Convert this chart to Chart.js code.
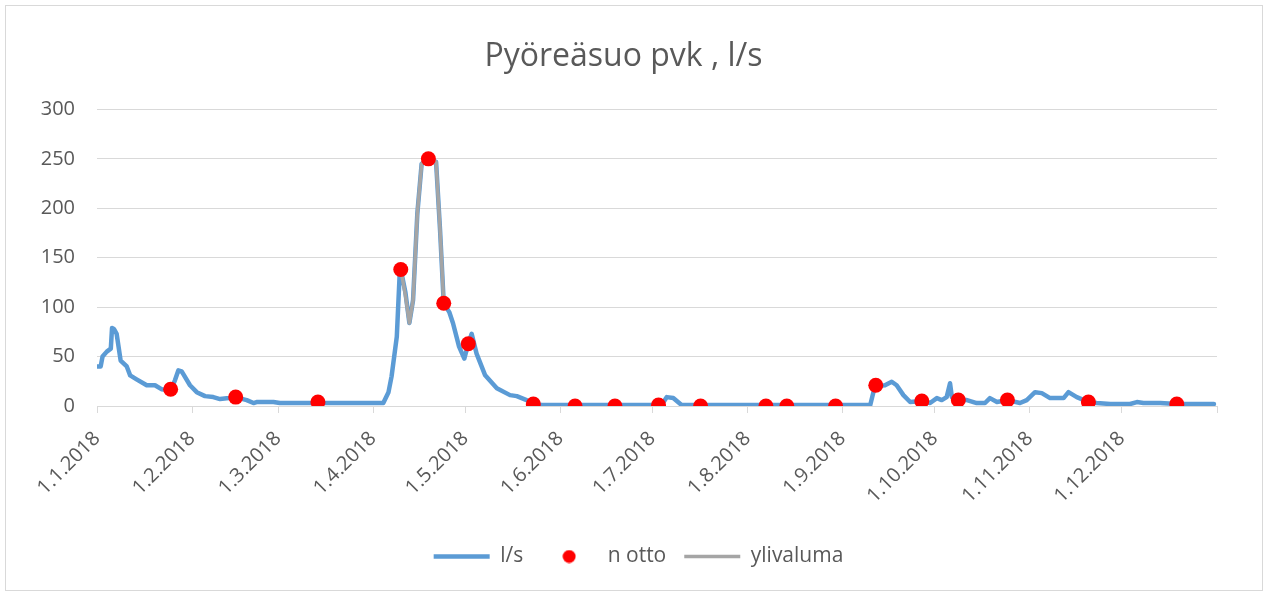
<!DOCTYPE html>
<html lang="fi">
<head>
  <meta charset="utf-8"/>
  <title>Pyöreäsuo pvk , l/s</title>
  <script src="https://cdn.jsdelivr.net/npm/chart.js"></script>
  <style>
    html, body { margin: 0; padding: 0; background: #fff; }
    #wrap { position: relative; width: 1264px; height: 591px; }
    #frame { position: absolute; left: 5px; top: 5px; width: 1256px; height: 584px;
             border: 1px solid #d9d9d9; pointer-events: none; }
  </style>
</head>
<body>
<div id="wrap">
  <canvas id="flowChart"></canvas>
  <div id="frame"></div>
</div>
<script>
// day of year (0 = 1.1.2018) and flow l/s
const lsDays = [0, 1.2, 1.8, 3.2, 4.5, 4.9, 5.5, 6.4, 7.7, 9.7, 10.8, 12.9, 16.2, 18.9, 21, 24, 25.4, 26.5, 27.6,
  30.3, 32.5, 35.2, 37.9, 40.1, 43, 45, 48.8, 51, 52, 57.5, 59.6, 93.3, 95, 96, 97.7, 98.6, 99, 100.5, 101.8,
  103, 104.4, 105.8, 108, 110.5, 111.8, 113, 114.8, 116, 118, 119.7, 121, 122.1, 123.7, 126.5, 130.3, 134.6,
  136.8, 140, 142.2, 145, 184, 185.7, 187.8, 190.5, 252, 253.5, 256.8, 259, 260.6, 262.8, 265, 268.8, 271.5,
  273.7, 275.3, 276.9, 278, 278.6, 280.7, 283.5, 286.7, 289.4, 291, 293.3, 296.7, 300.8, 303, 305.7, 307.9,
  310.6, 315, 316.6, 319.3, 323.1, 325.8, 330.2, 336.7, 338.9, 341, 346.5, 351.9, 354, 364];
const lsValues = [40, 40, 50, 55, 58, 79, 78, 73, 46, 40, 31, 27, 21, 21, 17, 16, 26, 36, 35,
  21, 14, 10, 9, 7, 8, 9, 6, 3, 4, 4, 3, 3, 14, 30, 70, 131, 138, 115, 84,
  107, 195, 245, 250, 247, 178, 104, 95, 84, 60, 48, 63, 73, 53, 31, 18, 11,
  10, 6, 2, 1, 1, 9, 8, 1, 1, 20, 21, 24.5, 21, 11, 4, 5, 3,
  8, 6, 9, 23, 9, 6, 6, 3, 3, 8, 4, 6, 3, 6, 14, 13,
  8, 8, 14, 9, 4, 3, 2, 2, 4, 3, 3, 2, 2, 2];

const ottoDays = [24, 45.2, 72, 99, 108, 113, 121, 142.2, 155.8, 168.8, 183, 196.7, 218, 224.8, 240.7,
  253.8, 268.8, 280.7, 296.7, 323.1, 351.9];
const ottoValues = [17, 9, 4, 138, 250, 104, 63, 2, 0, 0, 1, 0, 0, 0, 0, 21, 5, 6, 6, 4, 2];

const yliDays = [99, 100.5, 101.8, 103, 104.4, 105.8, 108, 110.5, 111.8, 113];
const yliValues = [138, 112, 84, 107, 195, 245, 250, 247, 178, 104];

const monthStartDays = [0, 31, 59, 90, 120, 151, 181, 212, 243, 273, 304, 334, 365];
const xTickLabels = ['1.1.2018', '1.2.2018', '1.3.2018', '1.4.2018', '1.5.2018', '1.6.2018', '1.7.2018',
  '1.8.2018', '1.9.2018', '1.10.2018', '1.11.2018', '1.12.2018', ''];
const yTicks = [0, 50, 100, 150, 200, 250, 300];

const toPoints = (xs, ys) => xs.map((x, i) => ({ x: x, y: ys[i] }));

const TEXT = '#595959';
const GRID = '#d9d9d9';
const BLUE = '#5b9bd5';
const GREY = '#a5a5a5';
const RED = '#ff0000';

// round marker for the legend (a plain 'circle' would be stretched by pointStyleWidth)
const dot = document.createElement('canvas');
dot.width = 14; dot.height = 14;
const dctx = dot.getContext('2d');
dctx.fillStyle = RED;
dctx.beginPath(); dctx.arc(7, 7, 6.5, 0, Math.PI * 2); dctx.fill();

// nudge title and legend sideways like in the original excel picture
const shiftBlocks = {
  id: 'shiftBlocks',
  afterLayout(chart) {
    chart.titleBlock.left += 15; chart.titleBlock.right += 15;
    chart.legend.left += 30; chart.legend.right += 30;
  }
};

new Chart(document.getElementById('flowChart'), {
  type: 'line',
  data: {
    datasets: [
      { label: 'n otto', data: toPoints(ottoDays, ottoValues), showLine: false,
        pointRadius: 7.5, pointBackgroundColor: RED, pointBorderColor: RED, pointBorderWidth: 0, order: 0 },
      { label: 'ylivaluma', data: toPoints(yliDays, yliValues), borderColor: GREY, borderWidth: 3.5,
        pointRadius: 0, borderJoinStyle: 'round', borderCapStyle: 'round', order: 1 },
      { label: 'l/s', data: toPoints(lsDays, lsValues), borderColor: BLUE, borderWidth: 4.5,
        pointRadius: 0, borderJoinStyle: 'round', borderCapStyle: 'round', order: 2 }
    ]
  },
  plugins: [shiftBlocks],
  options: {
    responsive: true,
    maintainAspectRatio: false,
    animation: false,
    layout: { padding: { top: 22, right: 47, bottom: 14, left: 0 } },
    plugins: {
      tooltip: { enabled: false },
      title: {
        display: true,
        text: 'Pyöreäsuo pvk , l/s',
        color: TEXT,
        font: { family: 'Open Sans', size: 32, weight: 'normal' },
        padding: { top: 16, bottom: 33 }
      },
      legend: {
        position: 'bottom',
        labels: {
          usePointStyle: true,
          pointStyleWidth: 56,
          boxHeight: 9,
          padding: 18,
          color: TEXT,
          font: { family: 'Open Sans', size: 21 },
          generateLabels: () => [
            { text: 'l/s', pointStyle: 'line', strokeStyle: BLUE, fillStyle: BLUE, lineWidth: 4.5, fontColor: TEXT, datasetIndex: 2 },
            { text: 'n otto', pointStyle: dot, strokeStyle: RED, fillStyle: RED, lineWidth: 0, fontColor: TEXT, datasetIndex: 0 },
            { text: 'ylivaluma', pointStyle: 'line', strokeStyle: GREY, fillStyle: GREY, lineWidth: 3.5, fontColor: TEXT, datasetIndex: 1 }
          ]
        }
      }
    },
    scales: {
      x: {
        type: 'linear',
        min: 0,
        max: 365,
        afterBuildTicks: (scale) => { scale.ticks = monthStartDays.map(v => ({ value: v })); },
        afterFit: (scale) => { scale.height = 122; },
        grid: { drawOnChartArea: false, drawTicks: true, tickLength: 7, color: GRID },
        border: { color: GRID },
        ticks: {
          autoSkip: false,
          maxRotation: 45,
          minRotation: 45,
          padding: 14,
          color: TEXT,
          font: { family: 'Open Sans', size: 20 },
          callback: (value, index) => xTickLabels[index]
        }
      },
      y: {
        min: 0,
        max: 300,
        afterBuildTicks: (scale) => { scale.ticks = yTicks.map(v => ({ value: v })); },
        afterFit: (scale) => { scale.width = 97; },
        grid: { color: GRID, drawTicks: false },
        border: { display: false },
        ticks: {
          padding: 22,
          color: TEXT,
          font: { family: 'Open Sans', size: 20 }
        }
      }
    }
  }
});
</script>
</body>
</html>
